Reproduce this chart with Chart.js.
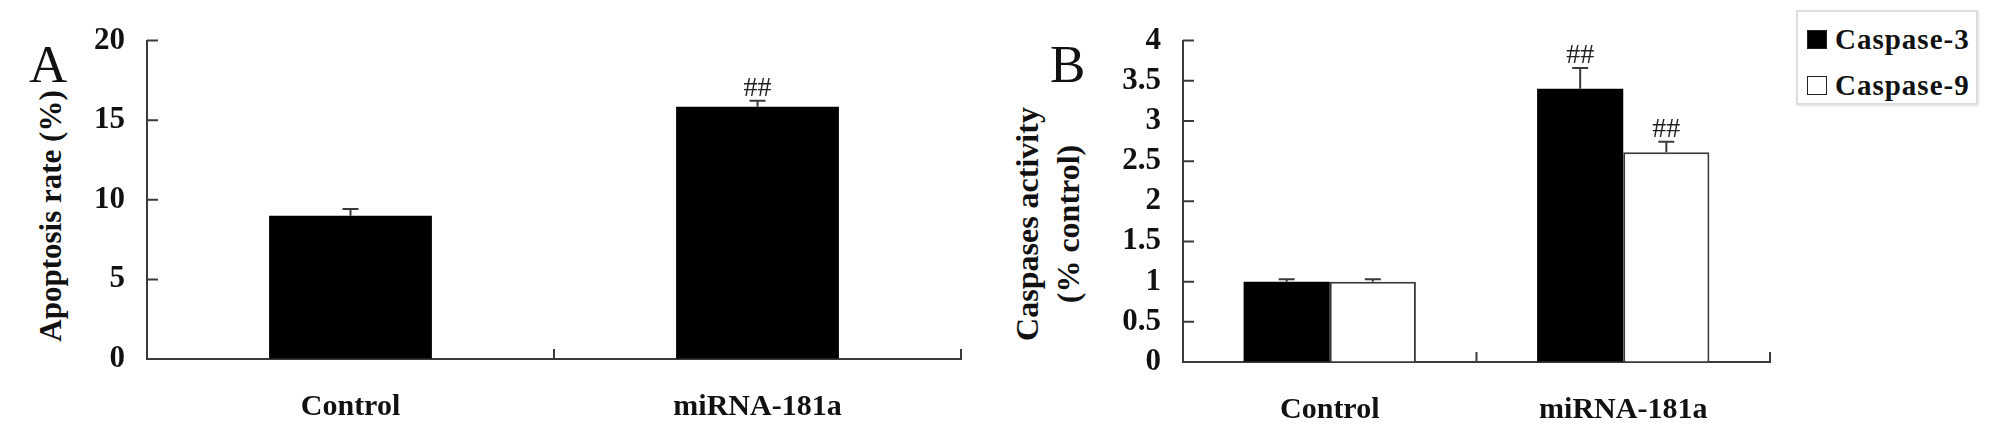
<!DOCTYPE html>
<html>
<head>
<meta charset="utf-8">
<script src="https://cdn.jsdelivr.net/npm/chart.js@4/dist/chart.umd.min.js"></script>
<style>
body { margin:0; background:#fff; width:2008px; height:431px; overflow:hidden; position:relative;
       font-family:"Liberation Serif","Times New Roman",serif; color:#111; }
.panel { position:absolute; top:0; height:431px; }
.letter { position:absolute; font-size:53px; line-height:1; font-weight:normal; }
.ytitle { position:absolute; font-weight:bold; white-space:nowrap; text-align:center;
          transform:translate(-50%,-50%) rotate(-90deg); line-height:41px; }
#legend { position:absolute; left:1796px; top:10px; width:178px; height:91px; border:2px solid #ddd;
          box-shadow:1px 1px 2px #e4e4e4; }
#legend .item { position:absolute; left:9px; height:34px; display:flex; align-items:center;
                font-size:29px; font-weight:bold; letter-spacing:1px; }
#legend .sw { width:18px; height:17px; border:1px solid #222; margin-right:8px; }
</style>
</head>
<body>
<div class="letter" style="left:29px;top:38px">A</div>
<div class="letter" style="left:1050px;top:38px">B</div>
<div class="ytitle" style="left:50px;top:216px;font-size:31px">Apoptosis rate (%)</div>
<div class="ytitle" style="left:1048px;top:224px;font-size:32px">Caspases activity<br>(% control)</div>
<div id="legend"></div>
<div class="panel" style="left:0;width:1000px"><canvas id="chartA"></canvas></div>
<div class="panel" style="left:1000px;width:1008px"><canvas id="chartB"></canvas></div>
<script>
const categories = ['Control', 'miRNA-181a'];

// panel A
const apoptosisRate = [9.0, 15.85];
const apoptosisErr = [0.42, 0.37];
const apoptosisMarks = ['', '##'];

// panel B
const caspaseNames = ['Caspase-3', 'Caspase-9'];
const caspase3 = [1.0, 3.40];
const caspase3Err = [0.03, 0.26];
const caspase3Marks = ['', '##'];
const caspase9 = [1.0, 2.61];
const caspase9Err = [0.03, 0.13];
const caspase9Marks = ['', '##'];
const caspaseFill = ['#000000', '#ffffff'];

const axisColor = '#3a3a3a';
const serif = '"Liberation Serif", "Times New Roman", serif';

// error bars, "##" marks and the inward tick marks
const extras = {
    id: 'extras',
    afterDatasetsDraw(chart) {
        let ctx = chart.ctx;
        let y = chart.scales.y, x = chart.scales.x;
        let area = chart.chartArea;
        ctx.save();
        ctx.strokeStyle = axisColor;
        ctx.lineWidth = 2;
        chart.data.datasets.forEach((ds, di) => {
            let meta = chart.getDatasetMeta(di);
            meta.data.forEach((bar, i) => {
                let top = y.getPixelForValue(ds.data[i] + ds.errors[i]);
                ctx.beginPath();
                ctx.moveTo(bar.x, bar.y);
                ctx.lineTo(bar.x, top);
                ctx.moveTo(bar.x - 8, top);
                ctx.lineTo(bar.x + 8, top);
                ctx.stroke();
                if (ds.marks[i]) {
                    ctx.fillStyle = '#222';
                    ctx.font = '28px ' + serif;
                    ctx.textAlign = 'center';
                    ctx.textBaseline = 'alphabetic';
                    ctx.fillText(ds.marks[i], bar.x, top - 5);
                }
            });
        });
        ctx.beginPath();
        y.ticks.forEach((t, i) => {
            if (i == 0) return;
            let py = y.getPixelForTick(i);
            ctx.moveTo(area.left, py);
            ctx.lineTo(area.left + 11, py);
        });
        for (let i = 1; i <= categories.length; i++) {
            let px = i < categories.length
                ? (x.getPixelForTick(i - 1) + x.getPixelForTick(i)) / 2
                : area.right;
            ctx.moveTo(px, area.bottom);
            ctx.lineTo(px, area.bottom - 10);
        }
        ctx.stroke();
        ctx.restore();
    }
};

function makeOptions(max, step, leftW, bottomH, pad, catPct, barPct) {
    return {
        responsive: true,
        maintainAspectRatio: false,
        animation: false,
        layout: { padding: pad },
        plugins: { legend: { display: false }, tooltip: { enabled: false } },
        datasets: { bar: { categoryPercentage: catPct, barPercentage: barPct } },
        scales: {
            x: {
                offset: true,
                grid: { display: true, drawOnChartArea: false, drawTicks: false },
                border: { display: true, color: axisColor, width: 2 },
                ticks: { color: '#111', padding: 30, font: { family: serif, size: 30, weight: 'bold' } },
                afterFit: s => { s.height = bottomH; }
            },
            y: {
                min: 0, max: max,
                grid: { display: true, drawOnChartArea: false, drawTicks: false },
                border: { display: true, color: axisColor, width: 2 },
                ticks: { stepSize: step, autoSkip: false, color: '#111', padding: 22,
                         font: { family: serif, size: 31, weight: 'bold' },
                         callback: v => String(v) },
                afterFit: s => { s.width = leftW; }
            }
        }
    };
}

new Chart(document.getElementById('chartA'), {
    type: 'bar',
    data: {
        labels: categories,
        datasets: [{
            label: 'Apoptosis rate',
            data: apoptosisRate,
            errors: apoptosisErr,
            marks: apoptosisMarks,
            backgroundColor: '#000',
            borderWidth: 0
        }]
    },
    options: makeOptions(20, 5, 147, 72, { top: 37, right: 39, left: 0, bottom: 0 }, 1, 0.4),
    plugins: [extras]
});

new Chart(document.getElementById('chartB'), {
    type: 'bar',
    data: {
        labels: categories,
        datasets: [
            { label: caspaseNames[0], data: caspase3, errors: caspase3Err, marks: caspase3Marks,
              backgroundColor: caspaseFill[0], borderColor: axisColor, borderWidth: 0 },
            { label: caspaseNames[1], data: caspase9, errors: caspase9Err, marks: caspase9Marks,
              backgroundColor: caspaseFill[1], borderColor: axisColor, borderWidth: 2 }
        ]
    },
    options: makeOptions(4, 0.5, 183, 69, { top: 36, right: 238, left: 0, bottom: 0 }, 0.587, 1),
    plugins: [extras]
});

let legend = document.getElementById('legend');
caspaseNames.forEach((name, i) => {
    legend.innerHTML += `<div class="item" style="top:${10 + i * 46}px"><div class="sw" style="background:${caspaseFill[i]}"></div>${name}</div>`;
});
</script>
</body>
</html>
